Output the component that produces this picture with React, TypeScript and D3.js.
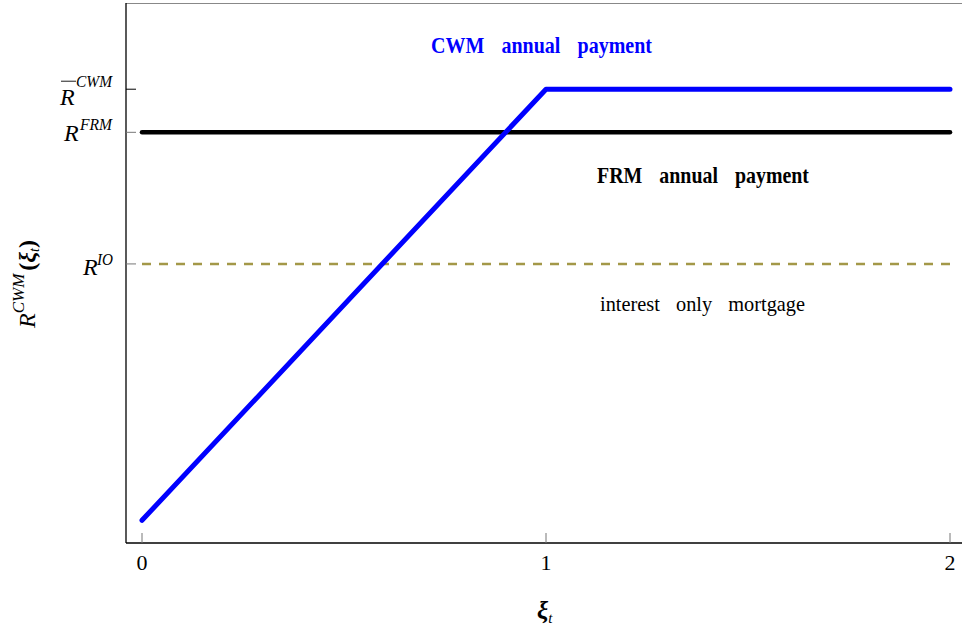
import React from "react";
import * as d3 from "d3";

// Data (model units)
const xTicks = [0, 1, 2];
const cwmX = [0, 1, 2];
const cwmY = [0.05, 1.0, 1.0];
const frmLevel = 0.905;
const ioLevel = 0.615;
const rBarLevel = 1.0;
const lineXs = [0, 2];

const W = 962;
const H = 634;
const axisLeft = 126;
const axisBottom = 543;
const plotTop = 3;

const x = d3.scaleLinear().domain([0, 2]).range([142, 950]);
const y = d3.scaleLinear().domain([0, 1.19]).range([axisBottom, plotTop]);

const serif = "'Liberation Serif', 'DejaVu Serif', serif";

export default function App() {
  React.useEffect(() => {
    document.body.style.margin = "0";
  }, []);

  const cwmLine = d3
    .line<number>()
    .x((d) => x(cwmX[d]))
    .y((d) => y(cwmY[d]));
  const hLine = (v: number) =>
    d3
      .line<number>()
      .x((d) => x(d))
      .y(() => y(v))(lineXs) as string;

  return (
    <svg width={W} height={H} style={{ display: "block", fontFamily: serif }}>
      <rect width={W} height={H} fill="#fff" />
      {/* frame */}
      <line x1={axisLeft} x2={W} y1={plotTop + 0.5} y2={plotTop + 0.5} stroke="#888" strokeWidth={1.2} />
      <line x1={axisLeft} x2={axisLeft} y1={plotTop} y2={axisBottom} stroke="#000" strokeWidth={1.3} />
      <line x1={axisLeft} x2={W} y1={axisBottom} y2={axisBottom} stroke="#000" strokeWidth={1.3} />

      {/* x ticks */}
      {xTicks.map((t) => (
        <g key={t}>
          <line x1={x(t)} x2={x(t)} y1={axisBottom} y2={axisBottom - 10} stroke="#777" strokeWidth={1} />
          <text x={x(t)} y={axisBottom + 27} textAnchor="middle" fontSize={22}>
            {t}
          </text>
        </g>
      ))}

      {/* y ticks */}
      <line x1={axisLeft} x2={axisLeft + 10} y1={y(rBarLevel)} y2={y(rBarLevel)} stroke="#000" strokeWidth={1} />
      <line x1={axisLeft} x2={axisLeft + 10} y1={y(frmLevel)} y2={y(frmLevel)} stroke="#777" strokeWidth={1} />
      <line x1={axisLeft} x2={axisLeft + 10} y1={y(ioLevel)} y2={y(ioLevel)} stroke="#777" strokeWidth={1} />

      {/* y tick labels */}
      <g fontStyle="italic">
        <line x1={61} x2={76} y1={y(rBarLevel) - 8} y2={y(rBarLevel) - 8} stroke="#000" strokeWidth={0.9} />
        <text x={60} y={y(rBarLevel) + 16} fontSize={24}>R</text>
        <text x={76} y={y(rBarLevel) - 2} fontSize={17} textLength={36} lengthAdjust="spacingAndGlyphs">CWM</text>

        <text x={64} y={y(frmLevel) + 9} fontSize={24}>R</text>
        <text x={80} y={y(frmLevel) - 2} fontSize={17} textLength={32} lengthAdjust="spacingAndGlyphs">FRM</text>

        <text x={83} y={y(ioLevel) + 11} fontSize={24}>R</text>
        <text x={97} y={y(ioLevel) + 1} fontSize={17} textLength={16} lengthAdjust="spacingAndGlyphs">IO</text>
      </g>

      {/* y axis title */}
      <g transform="translate(35, 328) rotate(-90)">
        <text x={0} y={0} fontSize={24} fontStyle="italic">
          R
          <tspan fontSize={17} dy={-11}>CWM</tspan>
          <tspan fontSize={24} dy={11} fontStyle="normal" fontWeight="bold" dx={3}>(</tspan>
          <tspan fontSize={24} fontWeight="bold">ξ</tspan>
          <tspan fontSize={14} dy={4}>t</tspan>
          <tspan fontSize={24} dy={-4} fontStyle="normal" fontWeight="bold">)</tspan>
        </text>
      </g>

      {/* x axis title */}
      <text x={537} y={619} fontSize={25} fontStyle="italic" fontWeight="bold">
        ξ<tspan fontSize={15} fontWeight="normal" dy={4}>t</tspan>
      </text>

      {/* lines */}
      <path d={hLine(ioLevel)} fill="none" stroke="#a39848" strokeWidth={2.5} strokeDasharray="9 8" />
      <path d={hLine(frmLevel)} fill="none" stroke="#000" strokeWidth={4.5} strokeLinecap="round" />
      <path
        d={cwmLine(d3.range(cwmX.length)) as string}
        fill="none"
        stroke="#0000ff"
        strokeWidth={5}
        strokeLinecap="round"
        strokeLinejoin="round"
      />

      {/* annotations */}
      <text x={431} y={53} fontSize={23} fontWeight="bold" fill="#0000ff" textLength={221} lengthAdjust="spacingAndGlyphs" wordSpacing={14}>
        CWM annual payment
      </text>
      <text x={597} y={183} fontSize={23} fontWeight="bold" fill="#000" textLength={212} lengthAdjust="spacingAndGlyphs" wordSpacing={14}>
        FRM annual payment
      </text>
      <text x={600} y={311} fontSize={22} fill="#000" textLength={205} lengthAdjust="spacingAndGlyphs" wordSpacing={12}>
        interest only mortgage
      </text>
    </svg>
  );
}
